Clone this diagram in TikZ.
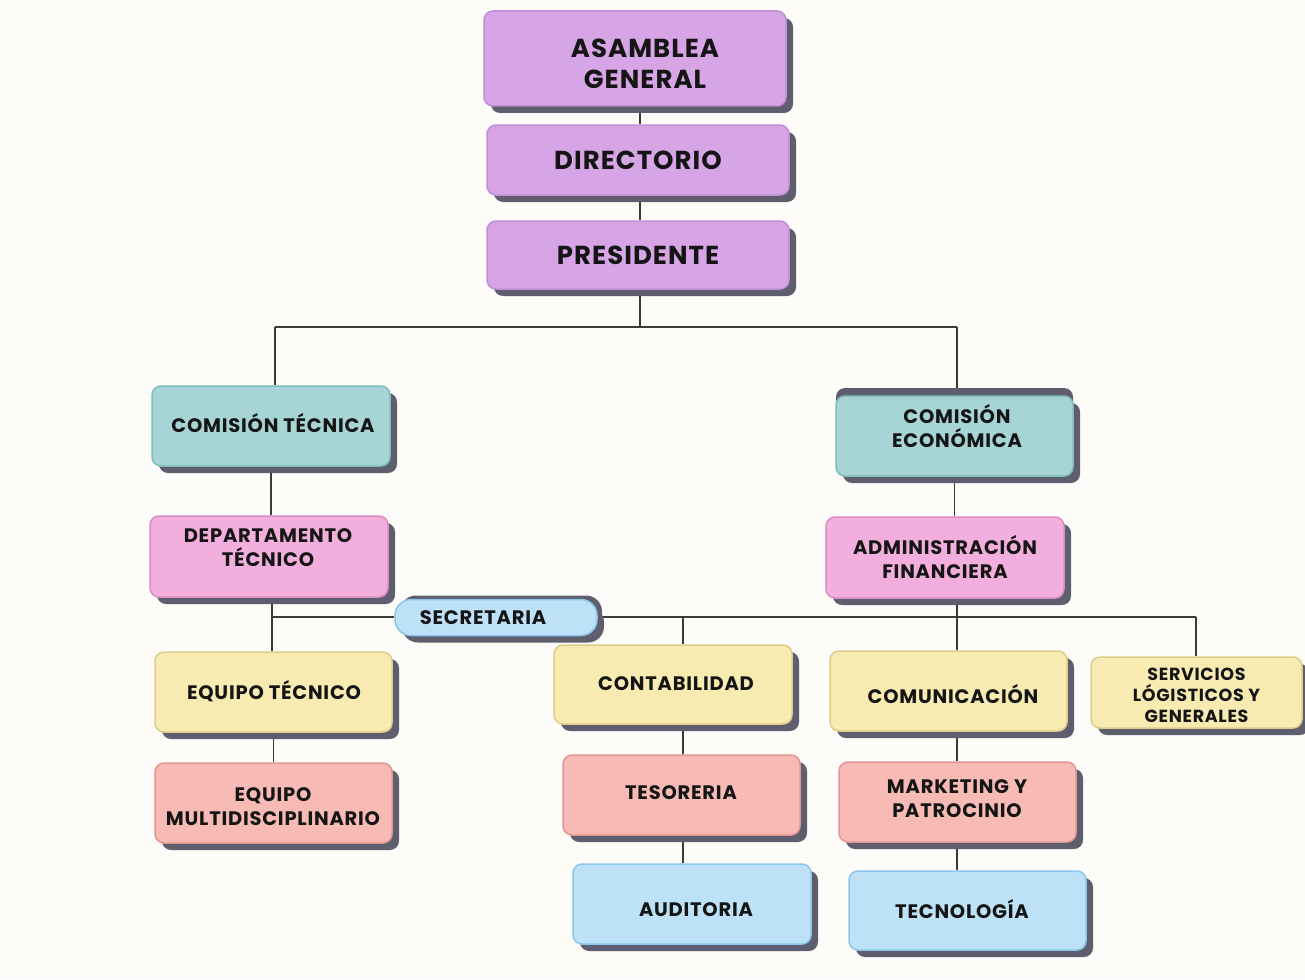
\documentclass[tikz,border=0pt]{standalone}
\usepackage{fontspec}
\setmainfont{Poppins}[LetterSpace=4]
\usetikzlibrary{shadows}
\definecolor{bgc}{HTML}{FDFCF8}
\definecolor{shd}{HTML}{5E5E6E}
\definecolor{lnc}{HTML}{3A3A3A}
\definecolor{txc}{HTML}{151515}
\definecolor{lil}{HTML}{D7A5E6}\definecolor{lilb}{HTML}{C08ED4}
\definecolor{tea}{HTML}{A7D4D4}\definecolor{teab}{HTML}{7FBDBE}
\definecolor{pnk}{HTML}{F2AEDC}\definecolor{pnkb}{HTML}{D68DC4}
\definecolor{blu}{HTML}{BDE2F7}\definecolor{blub}{HTML}{8CC6EA}
\definecolor{yel}{HTML}{F7EBB2}\definecolor{yelb}{HTML}{DDCD8A}
\definecolor{sal}{HTML}{F8BAB4}\definecolor{salb}{HTML}{E29690}
\pgfdeclarelayer{bg}\pgfdeclarelayer{lines}
\pgfsetlayers{bg,lines,main}
\tikzset{
  smallfont/.style={font=\bfseries\fontsize{19.5}{24}\selectfont},
  bigfont/.style={font=\bfseries\fontsize{26}{31}\selectfont},
  servfont/.style={font=\bfseries\fontsize{17.5}{21}\selectfont},
  base/.style={rounded corners=9pt, line width=1.5pt, inner sep=0pt, align=center,
    text=txc, smallfont,
    drop shadow={shadow xshift=7pt, shadow yshift=-7pt, opacity=1, fill=shd}},
  lilbox/.style={base, fill=lil, draw=lilb},
  teabox/.style={base, fill=tea, draw=teab},
  pnkbox/.style={base, fill=pnk, draw=pnkb},
  blubox/.style={base, fill=blu, draw=blub},
  yelbox/.style={base, fill=yel, draw=yelb},
  salbox/.style={base, fill=sal, draw=salb},
  conn/.style={draw=lnc, line width=1.3pt},
  lbl/.style={align=center, text=txc, inner sep=0pt, smallfont}
}
\begin{document}
\begin{tikzpicture}[x=1pt,y=-1pt]
\begin{pgfonlayer}{bg}
\fill[bgc] (0,0) rectangle (1305,979);
\end{pgfonlayer}
\useasboundingbox (0,0) rectangle (1305,979);

% top stack
\node[lilbox, minimum width=302pt, minimum height=95pt] (asm) at (635,58.5) {};
\node[lbl, bigfont] (asmt) at (645,63.5) {ASAMBLEA\\GENERAL};
\node[lilbox, bigfont, minimum width=302pt, minimum height=70pt] (dir) at (638,160) {DIRECTORIO};
\node[lilbox, bigfont, minimum width=302pt, minimum height=68pt] (pres) at (638,255) {PRESIDENTE};

% commissions
\node[teabox, minimum width=238pt, minimum height=80pt] (ct) at (271,426) {};
\node[lbl] (ctt) at (273,423) {COMISIÓN TÉCNICA};
\node[teabox, minimum width=237pt, minimum height=80pt,
  drop shadow={shadow xshift=0pt, shadow yshift=8pt, opacity=1, fill=shd}] (ce) at (954.5,436) {};
\node[lbl] (cet) at (957,426) {COMISIÓN\\ECONÓMICA};

% departments
\node[pnkbox, minimum width=238pt, minimum height=81pt] (dt) at (269,556.5) {};
\node[lbl] (dtt) at (268,548) {DEPARTAMENTO\\TÉCNICO};
\node[pnkbox, minimum width=238pt, minimum height=81pt] (af) at (945,557.5) {ADMINISTRACIÓN\\FINANCIERA};

% secretaria
\node[blubox, rounded corners=16pt, minimum width=202pt, minimum height=36pt,
  drop shadow={shadow xshift=5pt, shadow yshift=4pt, opacity=1, fill=shd}] (sec) at (496,617.5) {};
\node[lbl] (sect) at (483,618) {SECRETARIA};

% third level
\node[yelbox, minimum width=237pt, minimum height=80pt] (et) at (273.5,692) {};
\node[lbl] (ett) at (274,691) {EQUIPO TÉCNICO};
\node[salbox, minimum width=237pt, minimum height=80pt] (em) at (273.5,803) {};
\node[lbl] (emt) at (273,806.5) {EQUIPO\\MULTIDISCIPLINARIO};

\node[yelbox, minimum width=238pt, minimum height=79pt] (cont) at (673,684.5) {};
\node[lbl] (contt) at (676,684) {CONTABILIDAD};
\node[salbox, minimum width=237pt, minimum height=80pt] (tes) at (681.5,795) {};
\node[lbl] (test) at (681,793) {TESORERIA};
\node[blubox, minimum width=238pt, minimum height=80pt] (aud) at (692,904) {};
\node[lbl] (audt) at (696,910) {AUDITORIA};

\node[yelbox, minimum width=237pt, minimum height=80pt] (com) at (948.5,691) {};
\node[lbl] (comt) at (953,694) {COMUNICACIÓN};
\node[salbox, minimum width=237pt, minimum height=80pt] (mkt) at (957.5,802) {};
\node[lbl] (mktt) at (957,798.5) {MARKETING Y\\PATROCINIO};
\node[blubox, minimum width=237pt, minimum height=79pt] (tec) at (967.5,910.5) {};
\node[lbl] (tect) at (962,909) {TECNOLOGÍA};

\node[yelbox, minimum width=211pt, minimum height=71pt] (serv) at (1196.5,692.5) {};
\node[lbl, servfont] (servt) at (1196.5,695) {SERVICIOS\\LÓGISTICOS Y\\GENERALES};

% connectors
\coordinate (xa) at (640,0);
\coordinate (b1) at (640,327);
\coordinate (bl) at (275,327);
\coordinate (br) at (957,327);
\coordinate (sy) at (0,617);
\coordinate (sl) at (272,617);
\coordinate (sr) at (1196,617);
\coordinate (xc) at (683,0);
\begin{pgfonlayer}{lines}
\draw[conn] (asm.south -| xa) -- (dir.north -| xa);
\draw[conn] (dir.south -| xa) -- (pres.north -| xa);
\draw[conn] (pres.south -| xa) -- (b1);
\draw[conn] (bl) -- (br);
\draw[conn] (bl) -- (ct.north -| bl);
\draw[conn] (br) -- (ce.north -| br);
\draw[conn] (ct.south) -- (dt.north -| ct.south);
\draw[conn] (ce.south) -- (af.north -| ce.south);
\draw[conn] (dt.south -| sl) -- (et.north -| sl);
\draw[conn] (sl) -- (sec.west |- sy);
\draw[conn] (sec.east |- sy) -- (sr);
\draw[conn] (sr) -- (serv.north -| sr);
\draw[conn] (af.south -| br) -- (com.north -| br);
\draw[conn] (cont.north -| xc) -- (sy -| xc);
\draw[conn] (et.south) -- (em.north -| et.south);
\draw[conn] (cont.south -| xc) -- (tes.north -| xc);
\draw[conn] (tes.south -| xc) -- (aud.north -| xc);
\draw[conn] (com.south -| br) -- (mkt.north -| br);
\draw[conn] (mkt.south -| br) -- (tec.north -| br);
\end{pgfonlayer}
\end{tikzpicture}
\end{document}
